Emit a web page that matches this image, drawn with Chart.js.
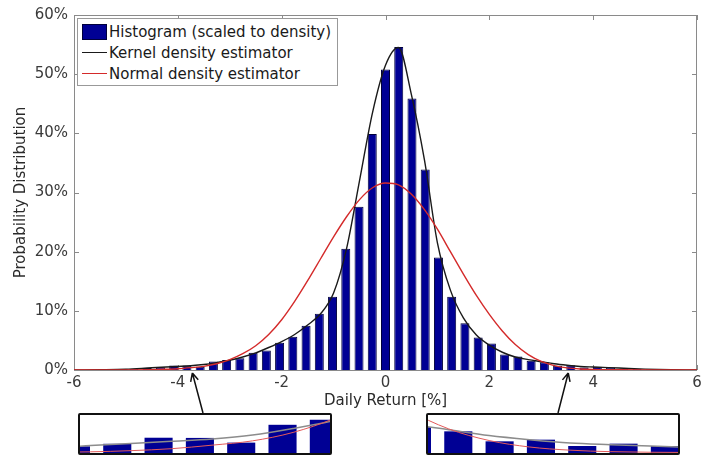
<!DOCTYPE html>
<html>
<head>
<meta charset="utf-8">
<script src="https://cdn.jsdelivr.net/npm/chart.js@4.4.1/dist/chart.umd.min.js"></script>
<style>
    html, body { margin: 0; padding: 0; background: #fff; }
    #wrap { position: relative; width: 712px; height: 455px; overflow: hidden; font-family: 'DejaVu Sans', sans-serif; }
    #wrap canvas { display: block; }
    #legend { position: absolute; left: 77px; top: 18px; width: 261px; height: 68px; box-sizing: border-box;
              border: 1px solid #999; background: #fff; padding-top: 2px; }
    .row { height: 21px; display: flex; align-items: center; font-size: 15px; color: #1a1a1a; white-space: nowrap; }
    .swatch { width: 25px; margin-left: 4px; margin-right: 2px; }
    .inset { position: absolute; top: 413px; width: 254px; height: 42px; box-sizing: border-box;
             border: 2px solid #111; border-radius: 2px; background: #fff; overflow: hidden; }
</style>
</head>
<body>
<div id="wrap">
    <canvas id="main" width="712" height="455"></canvas>
    <div id="legend"></div>
    <div class="inset" style="left:78px"><canvas id="inset_left" width="250" height="38"></canvas></div>
    <div class="inset" style="left:426px"><canvas id="inset_right" width="250" height="38"></canvas></div>
</div>
<script>
//
// Data (values in %)
//

const binCenters = [
    -5.1, -4.845, -4.59, -4.335, -4.08, -3.825, -3.57, -3.315, -3.06, -2.805,
    -2.55, -2.295, -2.04, -1.785, -1.53, -1.275, -1.02, -0.765, -0.51, -0.255,
    0, 0.255, 0.51, 0.765, 1.02, 1.275, 1.53, 1.785, 2.04, 2.295,
    2.55, 2.805, 3.06, 3.315, 3.57, 3.825, 4.08, 4.335, 4.59, 4.845, 5.1,
]
const histValues = [
    0.1, 0.15, 0.34, 0.47, 0.78, 0.77, 0.53, 1.44, 1.7, 2.0,
    2.9, 3.3, 4.6, 5.6, 7.5, 9.5, 12.4, 20.5, 27.6, 39.9,
    50.8, 54.6, 45.9, 33.9, 19.0, 12.4, 7.9, 5.5, 4.5, 2.6,
    2.3, 1.55, 1.3, 0.7, 0.8, 0.42, 0.56, 0.42, 0.25, 0.15, 0.1,
]

const kernelX = [
    -6, -5.5, -5, -4.5, -4, -3.75, -3.5, -3.25, -3, -2.75,
    -2.5, -2.25, -2, -1.75, -1.5, -1.25, -1, -0.75, -0.5, -0.25,
    0, 0.25, 0.5, 0.75, 1, 1.25, 1.5, 1.75, 2, 2.25,
    2.5, 2.75, 3, 3.25, 3.5, 3.75, 4, 4.5, 5, 5.5, 6,
]
const kernelY = [
    0, 0.04, 0.12, 0.38, 0.6, 0.72, 0.92, 1.25, 1.65, 2.2,
    2.9, 3.8, 4.8, 6.0, 7.6, 9.5, 13.0, 20.5, 32.0, 43.5,
    51.5, 54.5, 46.5, 35.5, 21.5, 13.5, 8.8, 5.9, 4.2, 3.0,
    2.2, 1.75, 1.4, 1.05, 0.8, 0.6, 0.5, 0.33, 0.15, 0.05, 0,
]

const normalX = [
    -6, -5.5, -5, -4.5, -4.25, -4, -3.75, -3.5, -3.25, -3,
    -2.75, -2.5, -2.25, -2, -1.75, -1.5, -1.25, -1, -0.75, -0.5,
    -0.25, 0, 0.25, 0.5, 0.75, 1, 1.25, 1.5, 1.75, 2,
    2.25, 2.5, 2.75, 3, 3.25, 3.5, 3.75, 4, 4.5, 5, 5.5, 6,
]
const normalY = [
    0, 0.01, 0.02, 0.06, 0.12, 0.22, 0.4, 0.62, 1.05, 1.75,
    2.75, 4.1, 6.0, 8.5, 11.6, 15.1, 18.8, 22.5, 25.9, 28.8,
    30.8, 31.6, 31.3, 29.7, 27.1, 23.8, 20.0, 16.2, 12.6, 9.4,
    6.6, 4.3, 2.6, 1.45, 0.75, 0.36, 0.17, 0.08, 0.03, 0.01, 0, 0,
]

const xTickValues = [ -6, -4, -2, 0, 2, 4, 6 ]
const yTickValues = [ 0, 10, 20, 30, 40, 50, 60 ]
const seriesLabels = [ 'Histogram (scaled to density)', 'Kernel density estimator', 'Normal density estimator' ]

//
// Styles
//

const BAR_COLOR = '#000094'
const KERNEL_COLOR = '#1a1a1a'
const NORMAL_COLOR = '#d42a2a'
const FRAME_COLOR = '#8a8a8a'
const FONT = { family: "'DejaVu Sans', sans-serif", size: 15 }

const pts = (xs, ys) => xs.map((x, i) => ({ x, y: ys[i] }))

function make_datasets (inset) {
    return [
        {
            type: 'bar',
            label: seriesLabels[0],
            data: pts(binCenters, histValues),
            backgroundColor: BAR_COLOR,
            borderColor: inset ? BAR_COLOR : '#00003c',
            borderWidth: inset ? 0 : 1,
            categoryPercentage: 1,
            barPercentage: 0.68,
            order: 3,
        },
        {
            type: 'line',
            label: seriesLabels[1],
            data: pts(kernelX, kernelY),
            borderColor: inset ? '#8c8c8c' : KERNEL_COLOR,
            borderWidth: inset ? 1.5 : 1.4,
            pointRadius: 0,
            cubicInterpolationMode: 'monotone',
            order: 1,
        },
        {
            type: 'line',
            label: seriesLabels[2],
            data: pts(normalX, normalY),
            borderColor: inset ? '#e35a5a' : NORMAL_COLOR,
            borderWidth: inset ? 1 : 1.4,
            pointRadius: 0,
            cubicInterpolationMode: 'monotone',
            order: 0,
        },
    ]
}

// MATLAB-like box with inward ticks
const frame_plugin = {
    id: 'frame',
    beforeDatasetsDraw (chart) {
        const { ctx, chartArea: a, scales: { x, y } } = chart
        ctx.save()
        ctx.strokeStyle = FRAME_COLOR
        ctx.lineWidth = 1
        ctx.strokeRect(a.left + 0.5, a.top + 0.5, a.right - a.left - 1, a.bottom - a.top)
        ctx.beginPath()
        for (const v of xTickValues) {
            const px = Math.round(x.getPixelForValue(v)) + 0.5
            ctx.moveTo(px, a.bottom); ctx.lineTo(px, a.bottom - 5)
            ctx.moveTo(px, a.top); ctx.lineTo(px, a.top + 5)
        }
        for (const v of yTickValues) {
            const py = Math.round(y.getPixelForValue(v)) + 0.5
            ctx.moveTo(a.left, py); ctx.lineTo(a.left + 5, py)
            ctx.moveTo(a.right, py); ctx.lineTo(a.right - 5, py)
        }
        ctx.stroke()
        ctx.restore()
    },
}

// arrows from the zoom boxes up to the tails they magnify
const insetArrows = [
    { target: -3.72, tail: [ 203, 413 ] },
    { target: 3.52, tail: [ 558, 413 ] },
]

const arrow_plugin = {
    id: 'arrows',
    afterDraw (chart) {
        const { ctx, scales: { x, y } } = chart
        ctx.save()
        ctx.strokeStyle = '#111'
        ctx.lineWidth = 1.5
        for (const { target, tail } of insetArrows) {
            const tx = x.getPixelForValue(target)
            const ty = y.getPixelForValue(0) + 3
            const ang = Math.atan2(ty - tail[1], tx - tail[0])
            ctx.beginPath()
            ctx.moveTo(tail[0], tail[1])
            ctx.lineTo(tx, ty)
            for (const d of [ -0.45, 0.45 ]) {
                ctx.moveTo(tx, ty)
                ctx.lineTo(tx - 9 * Math.cos(ang + d), ty - 9 * Math.sin(ang + d))
            }
            ctx.stroke()
        }
        ctx.restore()
    },
}

//
// Main chart
//

const main = new Chart(document.getElementById('main'), {
    type: 'bar',
    data: { datasets: make_datasets(false) },
    options: {
        responsive: false,
        animation: false,
        events: [],
        layout: { padding: { top: 15, right: 15, left: 0, bottom: 0 } },
        plugins: { legend: { display: false }, tooltip: { enabled: false } },
        scales: {
            x: {
                type: 'linear',
                min: -6,
                max: 6,
                offset: false,
                grid: { display: false, drawTicks: false, offset: false },
                border: { display: false },
                afterBuildTicks: (s) => { s.ticks = xTickValues.map((v) => ({ value: v })) },
                afterFit: (s) => { s.height = 85 },
                ticks: { font: FONT, color: '#3a3a3a', padding: 4, maxRotation: 0, autoSkip: false },
                title: { display: true, text: 'Daily Return [%]', font: FONT, color: '#2a2a2a', padding: { top: 0, bottom: 45 } },
            },
            y: {
                type: 'linear',
                min: 0,
                max: 60,
                grid: { display: false, drawTicks: false },
                border: { display: false },
                afterBuildTicks: (s) => { s.ticks = yTickValues.map((v) => ({ value: v })) },
                afterFit: (s) => { s.width = 74 },
                ticks: { font: FONT, color: '#3a3a3a', padding: 6, callback: (v) => v + '%' },
                title: { display: true, text: 'Probability Distribution', font: FONT, color: '#2a2a2a', padding: { top: 12, bottom: 0 } },
            },
        },
    },
    plugins: [ frame_plugin, arrow_plugin ],
})

//
// Legend, built from the datasets
//

const legend = document.getElementById('legend')
for (const ds of main.data.datasets) {
    const row = document.createElement('div')
    row.className = 'row'
    const sw = document.createElement('div')
    sw.className = 'swatch'
    if (ds.type === 'bar') {
        sw.style.height = '16px'
        sw.style.background = ds.backgroundColor
        sw.style.boxSizing = 'border-box'
        sw.style.border = '1px solid #00003c'
    } else {
        sw.style.height = '0'
        sw.style.borderTop = '1.5px solid ' + ds.borderColor
    }
    row.appendChild(sw)
    row.appendChild(document.createTextNode(ds.label))
    legend.appendChild(row)
}

//
// Zoomed tails
//

function make_inset (id, xmin, xmax, ymax) {
    return new Chart(document.getElementById(id), {
        type: 'bar',
        data: { datasets: make_datasets(true) },
        options: {
            responsive: false,
            animation: false,
            events: [],
            layout: { padding: 0 },
            plugins: { legend: { display: false }, tooltip: { enabled: false } },
            scales: {
                x: { type: 'linear', min: xmin, max: xmax, offset: false, display: false, grid: { offset: false } },
                y: { type: 'linear', min: 0, max: ymax, display: false },
            },
        },
    })
}

make_inset('inset_left', -4.565, -3.022, 1.94)
make_inset('inset_right', 2.873, 4.416, 2.28)
</script>
</body>
</html>
